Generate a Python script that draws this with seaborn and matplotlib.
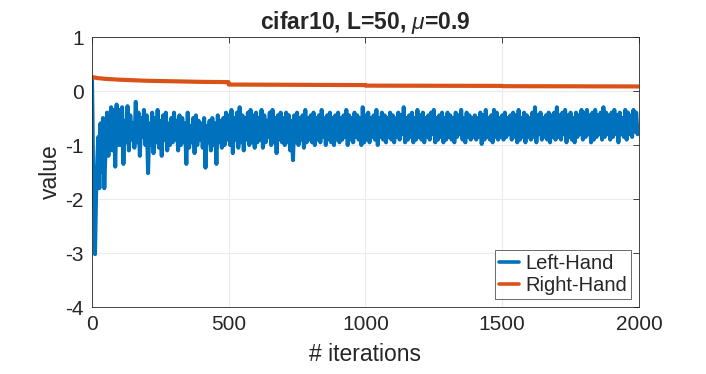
import numpy as np
import pandas as pd
import matplotlib.pyplot as plt
import seaborn as sns

# ---- data ----
left_early_x = [0, 2, 5, 8, 11, 15, 20, 23, 27, 31, 36, 40, 45, 50, 55, 60, 65,
                70, 75, 80, 85, 90, 95]
left_early_y = [0.25, -0.5, -2.0, -1.6, -3.02, -1.9, -1.2, -0.85, -1.8, -0.6,
                -1.5, -0.5, -1.8, -1.0, -0.4, -1.2, -0.6,
                -0.30, -1.10, -0.35, -1.40, -0.25, -1.00]

# Left-Hand peaks (at 100, 110, ..., 1990)
left_hi = [
    -0.35, -0.30, -0.55, -0.28, -0.45, -0.60, -0.20, -0.40, -0.50, -0.35,
    -0.45, -0.60, -0.40, -0.50, -0.35, -0.55, -0.45, -0.40, -0.60, -0.50,
    -0.40, -0.55, -0.45, -0.50, -0.60, -0.40, -0.65, -0.50, -0.45, -0.55,
    -0.60, -0.50, -0.65, -0.55, -0.50, -0.60, -0.45, -0.55, -0.50, -0.40,
    -0.45, -0.35, -0.50, -0.40, -0.30, -0.45, -0.50, -0.40, -0.35, -0.45,
    -0.40, -0.50, -0.35, -0.45, -0.55, -0.40, -0.35, -0.50, -0.45, -0.40,
    -0.50, -0.40, -0.45, -0.55, -0.45, -0.40, -0.50, -0.45, -0.35, -0.50,
    -0.45, -0.40, -0.50, -0.45, -0.35, -0.50, -0.45, -0.40, -0.50, -0.45,
    -0.40, -0.50, -0.45, -0.35, -0.45, -0.50, -0.40, -0.45, -0.50, -0.30,
    -0.45, -0.40, -0.50, -0.45, -0.35, -0.50, -0.40, -0.45, -0.50, -0.40,
    -0.45, -0.50, -0.40, -0.45, -0.30, -0.50, -0.45, -0.40, -0.50, -0.35,
    -0.45, -0.40, -0.50, -0.45, -0.40, -0.35, -0.50, -0.45, -0.40, -0.50,
    -0.40, -0.45, -0.50, -0.40, -0.45, -0.35, -0.50, -0.40, -0.45, -0.50,
    -0.45, -0.50, -0.40, -0.45, -0.35, -0.50, -0.45, -0.35, -0.40, -0.50,
    -0.45, -0.40, -0.50, -0.45, -0.40, -0.45, -0.35, -0.50, -0.40, -0.45,
    -0.50, -0.40, -0.30, -0.45, -0.40, -0.50, -0.45, -0.40, -0.45, -0.40,
    -0.30, -0.45, -0.40, -0.35, -0.45, -0.40, -0.50, -0.40, -0.45, -0.35,
    -0.40, -0.35, -0.45, -0.40, -0.35, -0.45, -0.40, -0.30, -0.40, -0.45,
    -0.40, -0.35, -0.45, -0.40, -0.50, -0.35, -0.40, -0.45, -0.35, -0.40,
]
# Left-Hand troughs (at 105, 115, ..., 1995)
left_lo = [
    -1.00, -1.35, -0.95, -1.10, -0.90, -1.05, -0.95, -1.20, -0.85, -1.00,
    -1.52, -1.00, -1.15, -0.95, -1.05, -1.20, -0.90, -1.10, -1.00, -0.95,
    -0.90, -1.10, -1.00, -0.95, -1.35, -1.05, -0.95, -1.15, -1.00, -0.90,
    -1.05, -1.42, -0.95, -1.10, -1.00, -1.35, -0.95, -1.05, -1.00, -0.90,
    -1.00, -1.15, -0.90, -1.05, -0.95, -1.10, -0.90, -1.00, -0.95, -1.05,
    -0.95, -0.90, -1.05, -0.95, -0.85, -1.00, -0.95, -1.15, -0.90, -0.95,
    -1.00, -0.95, -1.10, -1.28, -0.95, -1.00, -0.90, -1.05, -0.95, -0.90,
    -0.95, -1.00, -0.90, -0.95, -0.85, -1.00, -0.90, -0.95, -1.00, -0.90,
    -0.95, -0.90, -0.85, -1.00, -0.90, -0.95, -0.85, -0.90, -1.00, -0.95,
    -0.90, -0.95, -0.85, -0.90, -1.00, -0.85, -0.90, -0.95, -0.85, -0.90,
    -0.95, -0.85, -0.90, -0.80, -0.95, -0.90, -0.85, -0.95, -0.90, -0.85,
    -0.90, -0.95, -0.85, -0.90, -0.80, -0.95, -0.90, -0.85, -0.95, -0.90,
    -0.85, -0.90, -0.95, -0.85, -0.80, -0.90, -0.95, -0.85, -0.90, -0.85,
    -0.90, -0.85, -0.98, -0.90, -0.85, -0.90, -0.95, -0.85, -0.90, -0.85,
    -0.90, -0.85, -0.80, -0.90, -0.85, -0.95, -0.90, -0.85, -0.95, -0.85,
    -0.90, -0.85, -0.95, -0.80, -0.90, -0.85, -0.90, -0.95, -0.85, -0.90,
    -0.85, -0.90, -0.80, -0.95, -0.85, -0.90, -0.95, -0.85, -0.80, -0.90,
    -0.85, -0.80, -0.95, -0.90, -0.85, -0.80, -0.90, -0.85, -0.80, -0.90,
    -0.85, -0.80, -0.95, -0.80, -0.85, -0.90, -0.80, -0.85, -0.75, -0.80,
]
left_end_x = [2000]
left_end_y = [-0.70]

right_x = [0, 20, 50, 100, 200, 300, 400, 499, 500, 1000, 1001, 1500, 1501, 2000]
right_y = [0.26, 0.24, 0.225, 0.21, 0.19, 0.18, 0.17, 0.165, 0.12, 0.11,
           0.10, 0.095, 0.09, 0.085]

# interleave peaks and troughs
t = np.arange(100, 2000, 10)
mid_x = np.empty(2 * len(t))
mid_x[0::2] = t
mid_x[1::2] = t + 5
mid_y = np.empty(2 * len(t))
mid_y[0::2] = left_hi
mid_y[1::2] = left_lo

left_x = np.concatenate([left_early_x, mid_x, left_end_x])
left_vals = np.concatenate([left_early_y, mid_y, left_end_y])

df = pd.concat([
    pd.DataFrame({"iter": left_x, "value": left_vals, "series": "Left-Hand"}),
    pd.DataFrame({"iter": right_x, "value": right_y, "series": "Right-Hand"}),
], ignore_index=True)

# ---- style ----
sns.set_style("whitegrid")
plt.rcParams['font.family'] = ['Liberation Sans', 'DejaVu Sans']
plt.rcParams['mathtext.fontset'] = 'custom'
plt.rcParams['mathtext.it'] = 'Liberation Sans:italic'
plt.rcParams['mathtext.rm'] = 'Liberation Sans'
plt.rcParams['axes.unicode_minus'] = False

fig = plt.figure(figsize=(7.06, 3.74), dpi=100)
ax = fig.add_axes([0.1303, 0.179, 0.7747, 0.722])

sns.lineplot(data=df, x="iter", y="value", hue="series",
             palette=["#0072BD", "#D95319"], estimator=None, sort=False,
             linewidth=2.9, ax=ax)
ax.lines[1].set_linewidth(3.0)

ax.set_xlim(0, 2000)
ax.set_ylim(-4, 1)
ax.set_xticks([0, 500, 1000, 1500, 2000])
ax.set_yticks([-4, -3, -2, -1, 0, 1])
ax.grid(True, color="#ebebeb", linewidth=0.8)
for s in ax.spines.values():
    s.set_color("#262626")
    s.set_linewidth(0.6)
ax.tick_params(direction="in", length=4, width=0.6, color="#262626",
               labelsize=15, top=True, right=True, pad=6)

ax.set_xlabel("# iterations", fontsize=16.5, labelpad=6)
ax.set_ylabel("value", fontsize=16.5, labelpad=2)
ax.set_title(r"cifar10, L=50, $\mu$=0.9", fontsize=16.5, fontweight="bold")

leg = ax.legend(loc="lower right", fontsize=14.5, frameon=True, fancybox=False,
                edgecolor="#262626", handlelength=1.0, handletextpad=0.3,
                borderpad=0.2, labelspacing=0.15, borderaxespad=0.4)
leg.get_frame().set_linewidth(0.6)
for h in leg.get_lines():
    h.set_linewidth(2.6)

fig.savefig("out.png", dpi=100)
